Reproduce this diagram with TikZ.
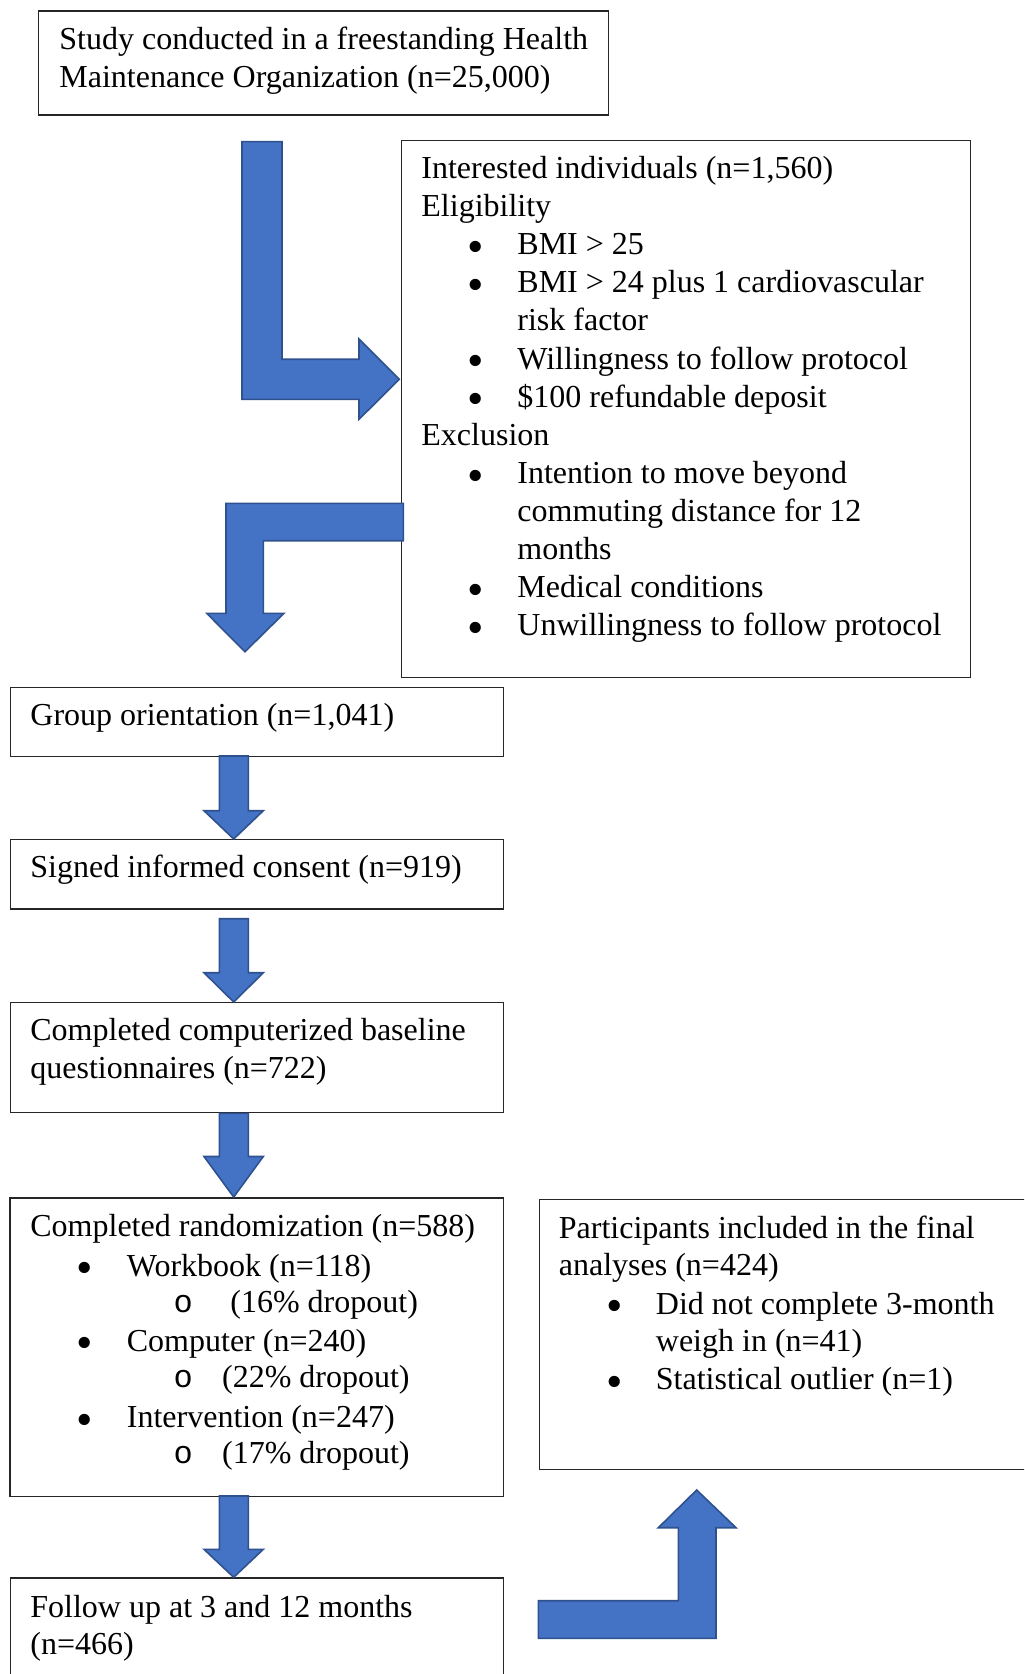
\documentclass[tikz,border=0pt]{standalone}
\usepackage{fontspec}
\setmainfont{Liberation Serif}
\newfontfamily\submono{Liberation Mono}
\definecolor{arrowblue}{HTML}{4472C4}
\definecolor{arrowedge}{HTML}{2F528F}
\begin{document}
\begin{tikzpicture}[x=0.5pt,y=-0.5pt,
  boxst/.style={draw=black!85, line width=0.7pt, inner sep=0pt, anchor=north west},
  txt/.style={anchor=base west, inner sep=0pt, font=\fontsize{16pt}{19pt}\selectfont},
  bul/.style={anchor=base, inner sep=0pt, yshift=-3.8pt, font=\fontsize{23.5pt}{26pt}\selectfont},
  subb/.style={anchor=base, inner sep=0pt, font=\fontsize{16pt}{19pt}\submono},
  blockarrow/.style={fill=arrowblue, draw=arrowedge, line width=0.8pt, line join=miter}]
\clip (0,0) rectangle (1024,1674);
\fill[white] (0,0) rectangle (1024,1674);

% boxes
\node[boxst, minimum width=285pt, minimum height=52pt] (b1) at (38,10.5) {};
\node[boxst, minimum width=284.4pt, minimum height=268.35pt] (b2) at (400.7,140) {};
\node[boxst, minimum width=246.6pt, minimum height=34.4pt] (b3) at (9.5,686.7) {};
\node[boxst, minimum width=246.6pt, minimum height=34.8pt] (b4) at (9.5,838.7) {};
\node[boxst, minimum width=246.6pt, minimum height=55pt] (b5) at (9.5,1002) {};
\node[boxst, minimum width=246.7pt, minimum height=149.35pt] (b6) at (9.3,1197.3) {};
\node[boxst, minimum width=251pt, minimum height=135pt] (b7) at (538.5,1199) {};
\node[boxst, minimum width=246.6pt, minimum height=61.35pt] (b8) at (9.5,1577.3) {};

% box 1 text
\node[txt] (t1a) at (59,50) {Study conducted in a freestanding Health};
\node[txt] (t1b) at (59,88) {Maintenance Organization (n=25,000)};

% box 2 text
\node[txt] (t2a) at (421,178.6) {Interested individuals (n=1,560)};
\node[txt] (t2b) at (421,216.7) {Eligibility};
\node[bul] (u2c) at (476,254.8) {•};
\node[txt] (t2c) at (517,254.8) {BMI > 25};
\node[bul] (u2d) at (476,292.9) {•};
\node[txt] (t2d) at (517,292.9) {BMI > 24 plus 1 cardiovascular};
\node[txt] (t2e) at (517,331) {risk factor};
\node[bul] (u2f) at (476,369.1) {•};
\node[txt] (t2f) at (517,369.1) {Willingness to follow protocol};
\node[bul] (u2g) at (476,407.2) {•};
\node[txt] (t2g) at (517,407.2) {\$100 refundable deposit};
\node[txt] (t2h) at (421,445.3) {Exclusion};
\node[bul] (u2i) at (476,483.4) {•};
\node[txt] (t2i) at (517,483.4) {Intention to move beyond};
\node[txt] (t2j) at (517,521.5) {commuting distance for 12};
\node[txt] (t2k) at (517,559.6) {months};
\node[bul] (u2l) at (476,597.7) {•};
\node[txt] (t2l) at (517,597.7) {Medical conditions};
\node[bul] (u2m) at (476,635.8) {•};
\node[txt] (t2m) at (517,635.8) {Unwillingness to follow protocol};

% box 3-5 text
\node[txt] (t3) at (30,725.5) {Group orientation (n=1,041)};
\node[txt] (t4) at (30,877.5) {Signed informed consent (n=919)};
\node[txt] (t5a) at (30,1040.5) {Completed computerized baseline};
\node[txt] (t5b) at (30,1078.5) {questionnaires (n=722)};

% box 6 text
\node[txt] (t6a) at (30,1236) {Completed randomization (n=588)};
\node[bul] (u6b) at (85,1276) {•};
\node[txt] (t6b) at (126.5,1276) {Workbook (n=118)};
\node[subb] (s6c) at (183.3,1312) {o};
\node[txt] (t6c) at (230,1312) {(16\% dropout)};
\node[bul] (u6d) at (85,1351) {•};
\node[txt] (t6d) at (126.5,1351) {Computer (n=240)};
\node[subb] (s6e) at (183.3,1387) {o};
\node[txt] (t6e) at (221.7,1387) {(22\% dropout)};
\node[bul] (u6f) at (85,1427.5) {•};
\node[txt] (t6f) at (126.5,1427.5) {Intervention (n=247)};
\node[subb] (s6g) at (183.3,1463.3) {o};
\node[txt] (t6g) at (221.7,1463.3) {(17\% dropout)};

% box 7 text
\node[txt] (t7a) at (558.5,1238) {Participants included in the final};
\node[txt] (t7b) at (558.5,1275.5) {analyses (n=424)};
\node[bul] (u7c) at (614.5,1314) {•};
\node[txt] (t7c) at (655.5,1314) {Did not complete 3-month};
\node[txt] (t7d) at (655.5,1351.5) {weigh in (n=41)};
\node[bul] (u7e) at (614.5,1389.5) {•};
\node[txt] (t7e) at (655.5,1389.5) {Statistical outlier (n=1)};

% box 8 text
\node[txt] (t8a) at (30,1617) {Follow up at 3 and 12 months};
\node[txt] (t8b) at (30,1654) {(n=466)};

% block arrows
\draw[blockarrow] (242,141.7) -- (282,141.7) -- (282,359.3) -- (359,359.3) -- (359,339)
  -- (399.3,379.3) -- (359,419.3) -- (359,399.3) -- (242,399.3) -- cycle;
\draw[blockarrow] (403.3,503.3) -- (403.3,540.7) -- (263.3,540.7) -- (263.3,613.3) -- (284,613.3)
  -- (245,651.7) -- (206.7,613.3) -- (226,613.3) -- (226,503.3) -- cycle;
\foreach \ta/\hb/\tp in {756/810.7/839, 918.7/972.7/1002, 1113.3/1156.5/1197, 1496/1549.3/1577.3}{
  \draw[blockarrow] (219.3,\ta) -- (248.3,\ta) -- (248.3,\hb) -- (263.3,\hb) -- (233.7,\tp)
    -- (204,\hb) -- (219.3,\hb) -- cycle;
}
\draw[blockarrow] (538.3,1600.7) -- (678.3,1600.7) -- (678.3,1527.7) -- (658.3,1527.7) -- (696.7,1490)
  -- (736,1527.7) -- (716,1527.7) -- (716,1638.3) -- (538.3,1638.3) -- cycle;
\end{tikzpicture}
\end{document}
